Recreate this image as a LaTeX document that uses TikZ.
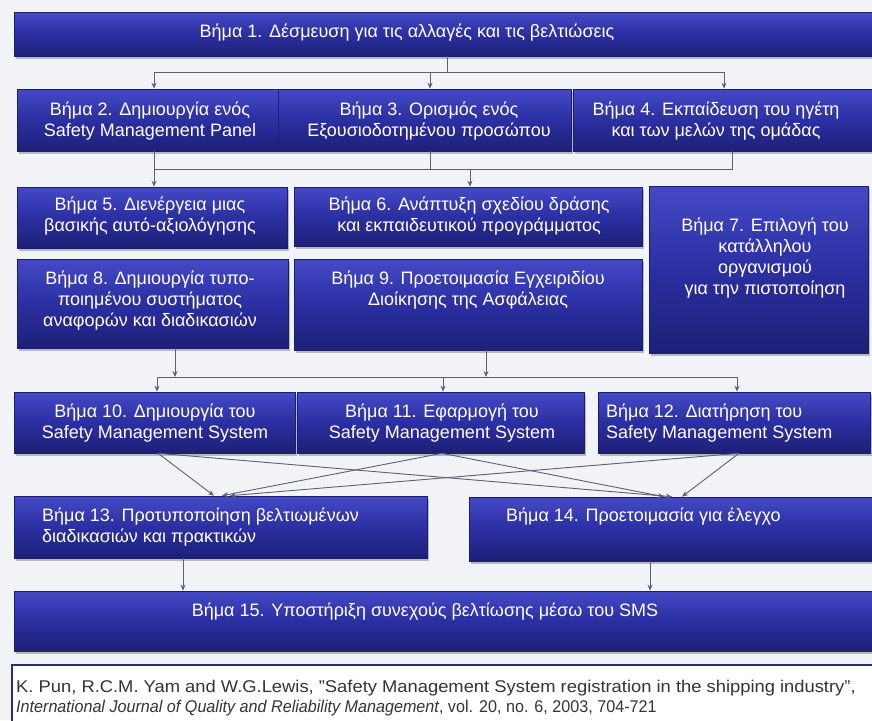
\documentclass[tikz,border=0pt]{standalone}
\usepackage{fontspec}
\setmainfont{Liberation Sans}
\usetikzlibrary{shadows,arrows.meta}
\definecolor{bgc}{HTML}{F2F3F7}
\definecolor{boxtop}{HTML}{4549C6}
\definecolor{boxmid}{HTML}{2B2FA2}
\definecolor{boxbot}{HTML}{1D2076}
\definecolor{boxedge}{HTML}{1B1D6E}
\definecolor{linec}{HTML}{5C6070}
\definecolor{citec}{HTML}{2A2E78}
\definecolor{citetext}{HTML}{333340}
\tikzset{
  stepbox/.style={draw=boxedge, line width=0.6pt, top color=boxtop, bottom color=boxbot, middle color=boxmid, inner sep=0pt,
    drop shadow={shadow xshift=1.5pt, shadow yshift=-2.5pt, opacity=0.35, fill=black!70}},
  txt/.style={text=white, font=\fontsize{18}{21}\selectfont, align=center, inner sep=0pt},
  txtl/.style={txt, align=left, anchor=west},
  arr/.style={draw=linec, line width=0.9pt, -{Stealth[length=6pt,width=5pt]}},
  ln/.style={draw=linec, line width=0.9pt},
  cite/.style={text=citetext, font=\fontsize{17}{20}\selectfont, anchor=west, inner sep=0pt}
}
\begin{document}
\begin{tikzpicture}[x=1pt,y=-1pt]
\clip (0,0) rectangle (872,720);
\fill[bgc] (0,0) rectangle (872,720);
% boxes
\node[stepbox, minimum width=861pt, minimum height=44pt] (b1) at (444.5,34) {};
\node[stepbox, minimum width=261pt, minimum height=62pt] (b2) at (147.5,120) {};
\node[stepbox, minimum width=293pt, minimum height=62pt] (b3) at (424.5,120) {};
\node[stepbox, minimum width=302pt, minimum height=62pt] (b4) at (724,120) {};
\node[stepbox, minimum width=270pt, minimum height=61pt] (b5) at (152,217.5) {};
\node[stepbox, minimum width=348pt, minimum height=59pt] (b6) at (468,216.5) {};
\node[stepbox, minimum width=219pt, minimum height=167pt] (b7) at (758.5,269.5) {};
\node[stepbox, minimum width=271pt, minimum height=89pt] (b8) at (152.5,303.5) {};
\node[stepbox, minimum width=348pt, minimum height=91pt] (b9) at (468,304.5) {};
\node[stepbox, minimum width=281pt, minimum height=61pt] (b10) at (154.5,422.5) {};
\node[stepbox, minimum width=287pt, minimum height=61pt] (b11) at (440.5,422.5) {};
\node[stepbox, minimum width=272pt, minimum height=61pt] (b12) at (734,422.5) {};
\node[stepbox, minimum width=413pt, minimum height=62pt] (b13) at (220.5,527) {};
\node[stepbox, minimum width=406pt, minimum height=64pt] (b14) at (672,529) {};
\node[stepbox, minimum width=861pt, minimum height=60pt] (b15) at (444.5,621) {};
\node[draw=citec, line width=2pt, fill=white, minimum width=870pt, minimum height=70pt, inner sep=0pt] (cb) at (447,700) {};
% texts
\node[txt] (t1) at (407,33) {Βήμα 1. Δέσμευση για τις αλλαγές και τις βελτιώσεις};
\node[txt] (t2) at (150,121) {Βήμα 2. Δημιουργία ενός\\Safety Management Panel};
\node[txt] (t3) at (429,121) {Βήμα 3. Ορισμός ενός\\Εξουσιοδοτημένου προσώπου};
\node[txt] (t4) at (716,121) {Βήμα 4. Εκπαίδευση του ηγέτη\\και των μελών της ομάδας};
\node[txt] (t5) at (150,216) {Βήμα 5. Διενέργεια μιας\\βασικής αυτό-αξιολόγησης};
\node[txt] (t6) at (469,216) {Βήμα 6. Ανάπτυξη σχεδίου δράσης\\και εκπαιδευτικού προγράμματος};
\node[txt] (t7) at (765,258) {Βήμα 7. Επιλογή του\\κατάλληλου\\οργανισμού\\για την πιστοποίηση};
\node[txt] (t8) at (150,301) {Βήμα 8. Δημιουργία τυπο-\\ποιημένου συστήματος\\αναφορών και διαδικασιών};
\node[txt] (t9) at (468,290) {Βήμα 9. Προετοιμασία Εγχειριδίου\\Διοίκησης της Ασφάλειας};
\node[txt] (t10) at (155,423) {Βήμα 10. Δημιουργία του\\Safety Management System};
\node[txt] (t11) at (442,423) {Βήμα 11. Εφαρμογή του\\Safety Management System};
\node[txtl] (t12) at (606,423) {Βήμα 12. Διατήρηση του\\Safety Management System};
\node[txtl] (t13) at (42,527) {Βήμα 13. Προτυποποίηση βελτιωμένων\\διαδικασιών και πρακτικών};
\node[txtl] (t14) at (506,517) {Βήμα 14. Προετοιμασία για έλεγχο};
\node[txt] (t15) at (425,612) {Βήμα 15. Υποστήριξη συνεχούς βελτίωσης μέσω του SMS};
\node[cite] (c1) at (16,688) {\scalebox{1.08}[1]{K. Pun, R.C.M. Yam and W.G.Lewis, "Safety Management System registration in the shipping industry",}};
\node[cite] (c2) at (16,708) {\scalebox{0.95}[1]{\textit{International Journal of Quality and Reliability Management}, vol. 20, no. 6, 2003, 704-721}};
% junction coordinates
\coordinate (j1) at (447,72);
\coordinate (h1a) at (154,72);
\coordinate (h1b) at (430,72);
\coordinate (h1c) at (724,72);
\coordinate (h2a) at (154,169);
\coordinate (h2b) at (430,169);
\coordinate (h2c) at (732,169);
\coordinate (h2d) at (470,169);
\coordinate (h3a) at (175,377);
\coordinate (h3b) at (486,377);
\coordinate (h3l) at (157,377);
\coordinate (h3m) at (443,377);
\coordinate (h3r) at (737,377);
% row 1 -> row 2
\draw[ln] (b1.south -| j1) -- (j1);
\draw[ln] (h1a) -- (h1c);
\draw[arr] (h1a) -- (b2.north -| h1a);
\draw[arr] (h1b) -- (b3.north -| h1b);
\draw[arr] (h1c) -- (b4.north -| h1c);
% row 2 -> row 3
\draw[ln] (b2.south -| h2a) -- (h2a) -- (h2c) -- (b4.south -| h2c);
\draw[ln] (b3.south -| h2b) -- (h2b);
\draw[arr] (h2a) -- (b5.north -| h2a);
\draw[arr] (h2d) -- (b6.north -| h2d);
% row 3 -> row 4
\draw[arr] (b8.south -| h3a) -- (h3a);
\draw[arr] (b9.south -| h3b) -- (h3b);
\draw[ln] (h3l) -- (h3r);
\draw[arr] (h3l) -- (b10.north -| h3l);
\draw[arr] (h3m) -- (b11.north -| h3m);
\draw[arr] (h3r) -- (b12.north -| h3r);
% row 4 -> row 5 (crossing)
\draw[arr] ([xshift=3.5pt]b10.south) -- ([xshift=-6.5pt]b13.north);
\draw[arr] ([xshift=3.5pt]b10.south) -- ([xshift=0pt]b14.north);
\draw[arr] ([xshift=1.5pt]b11.south) -- ([xshift=1.5pt]b13.north);
\draw[arr] ([xshift=1.5pt]b11.south) -- ([xshift=-8pt]b14.north);
\draw[arr] ([xshift=5pt]b12.south) -- ([xshift=9.5pt]b13.north);
\draw[arr] ([xshift=5pt]b12.south) -- ([xshift=10pt]b14.north);
% row 5 -> row 6
\draw[arr] ([xshift=-37.5pt]b13.south) -- ([xshift=-37.5pt]b13.south |- b15.north);
\draw[arr] ([xshift=-22pt]b14.south) -- ([xshift=-22pt]b14.south |- b15.north);
\end{tikzpicture}
\end{document}
